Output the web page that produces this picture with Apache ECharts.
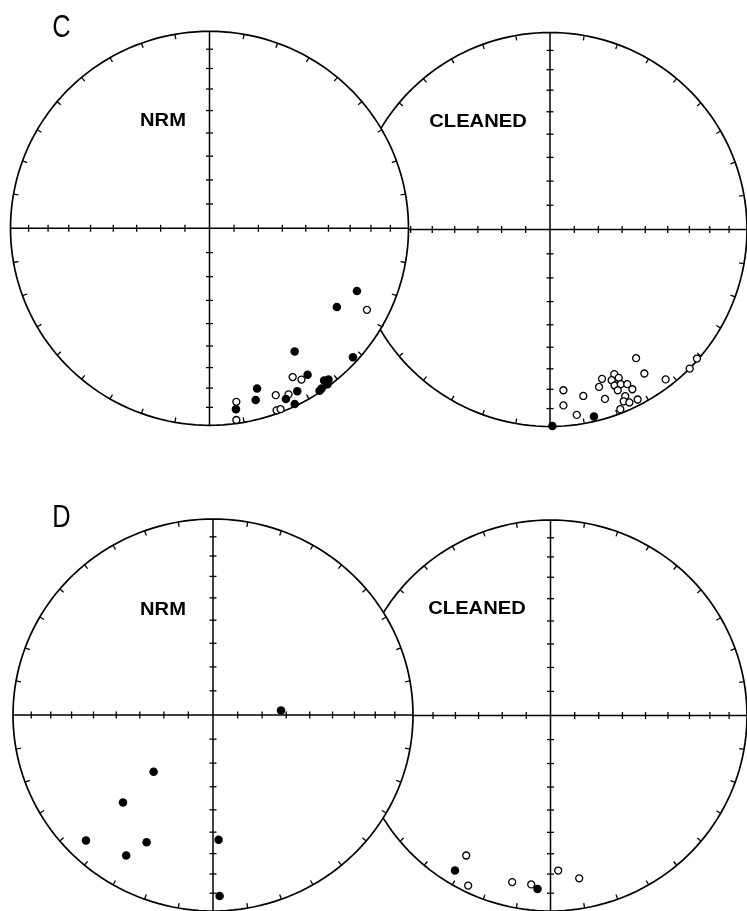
<!DOCTYPE html>
<html>
<head>
<meta charset="utf-8">
<script src="https://cdn.jsdelivr.net/npm/echarts@6/dist/echarts.min.js"></script>
<style>
html,body{margin:0;padding:0;background:#fff;}
#chart{width:747px;height:911px;}
</style>
</head>
<body>
<div id="chart"></div>
<script>
// ---- Data (equal-area net coordinates, x = east, y = north, unit = net radius) ----
// Filled = lower hemisphere, open = upper hemisphere
const groupLetters = ['C', 'D'];
const panelTitles = ['NRM', 'CLEANED'];

const cNrmFilled = [
  [0.741, -0.318], [0.640, -0.399], [0.428, -0.625], [0.721, -0.655],
  [0.493, -0.744], [0.576, -0.773], [0.598, -0.768], [0.593, -0.791],
  [0.563, -0.813], [0.553, -0.825], [0.441, -0.827], [0.239, -0.813],
  [0.232, -0.872], [0.384, -0.867], [0.428, -0.892], [0.133, -0.919]
];
const cNrmOpen = [
  [0.791, -0.414], [0.418, -0.755], [0.462, -0.768], [0.333, -0.847],
  [0.397, -0.843], [0.135, -0.881], [0.337, -0.924], [0.357, -0.918],
  [0.135, -0.973]
];
const cCleanFilled = [
  [0.223, -0.949], [0.012, -0.998]
];
const cCleanOpen = [
  [0.437, -0.653], [0.746, -0.655], [0.709, -0.706], [0.479, -0.731],
  [0.587, -0.761], [0.326, -0.734], [0.349, -0.753], [0.264, -0.758],
  [0.313, -0.765], [0.249, -0.799], [0.328, -0.792], [0.359, -0.785],
  [0.392, -0.785], [0.344, -0.816], [0.418, -0.811], [0.382, -0.846],
  [0.279, -0.860], [0.169, -0.845], [0.068, -0.816], [0.068, -0.893],
  [0.374, -0.872], [0.403, -0.878], [0.445, -0.863], [0.357, -0.912],
  [0.136, -0.941]
];
const dNrmFilled = [
  [0.340, 0.023], [-0.297, -0.290], [-0.450, -0.447], [-0.635, -0.640],
  [-0.332, -0.649], [-0.434, -0.717], [0.028, -0.637], [0.033, -0.923]
];
const dNrmOpen = [];
const dCleanFilled = [
  [-0.486, -0.793], [-0.066, -0.887]
];
const dCleanOpen = [
  [-0.429, -0.716], [-0.419, -0.870], [-0.195, -0.852], [-0.098, -0.864],
  [0.039, -0.793], [0.146, -0.833]
];
// net graticule: inclination steps (degrees) marked on the axes, azimuth step on the rim
const axisTickInclinations = [80, 70, 60, 50, 40, 30, 20, 10];
const rimTickStep = 10;

// ---- Layout ----
const layout = [
  {cx: 209.5, cy: 228.3, rx: 199, ry: 197},   // C NRM
  {cx: 550,   cy: 229.5, rx: 197, ry: 197},   // C CLEANED
  {cx: 213,   cy: 719,   rx: 200, ry: 200},   // D NRM
  {cx: 551,   cy: 718,   rx: 197, ry: 198}    // D CLEANED
];

const chart = echarts.init(document.getElementById('chart'), null, {renderer: 'canvas'});

function equalAreaRadius(incDeg) {
  const theta = (90 - incDeg) * Math.PI / 180;
  return Math.SQRT2 * Math.sin(theta / 2);
}

function netRender(params, api) {
  const children = [];
  const st = {stroke: '#000', lineWidth: 1.5, fill: null};
  const ring = [];
  for (let a = 0; a <= 360; a += 2) {
    const r = a * Math.PI / 180;
    ring.push(api.coord([Math.sin(r), Math.cos(r)]));
  }
  children.push({type: 'polygon', shape: {points: ring}, style: {fill: '#fff', stroke: '#000', lineWidth: 1.7}});
  const L = api.coord([-1, 0]), Rr = api.coord([1, 0]), T = api.coord([0, 1]), B = api.coord([0, -1]);
  children.push({type: 'line', shape: {x1: L[0], y1: L[1], x2: Rr[0], y2: Rr[1]}, style: st});
  children.push({type: 'line', shape: {x1: T[0], y1: T[1], x2: B[0], y2: B[1]}, style: st});
  // rim ticks (inward)
  for (let a = rimTickStep; a < 360; a += rimTickStep) {
    if (a % 90 === 0) continue;
    const r = a * Math.PI / 180;
    const p1 = api.coord([Math.sin(r), Math.cos(r)]);
    const p2 = api.coord([0.975 * Math.sin(r), 0.975 * Math.cos(r)]);
    children.push({type: 'line', shape: {x1: p1[0], y1: p1[1], x2: p2[0], y2: p2[1]}, style: {stroke: '#000', lineWidth: 1.3}});
  }
  // axis ticks (cross ticks)
  const h = 3.5;
  axisTickInclinations.forEach(function (inc) {
    const d = equalAreaRadius(inc);
    [[d, 0], [-d, 0]].forEach(function (pt) {
      const p = api.coord(pt);
      children.push({type: 'line', shape: {x1: p[0], y1: p[1] - h, x2: p[0], y2: p[1] + h}, style: {stroke: '#000', lineWidth: 1.3}});
    });
    [[0, d], [0, -d]].forEach(function (pt) {
      const p = api.coord(pt);
      children.push({type: 'line', shape: {x1: p[0] - h, y1: p[1], x2: p[0] + h, y2: p[1]}, style: {stroke: '#000', lineWidth: 1.3}});
    });
  });
  return {type: 'group', children: children};
}

const grids = [], xAxes = [], yAxes = [], series = [];
layout.forEach(function (g, i) {
  grids.push({left: g.cx - g.rx, top: g.cy - g.ry, width: 2 * g.rx, height: 2 * g.ry, containLabel: false});
  xAxes.push({gridIndex: i, type: 'value', min: -1, max: 1, show: false});
  yAxes.push({gridIndex: i, type: 'value', min: -1, max: 1, show: false});
});

const panelData = [
  {filled: cNrmFilled, open: cNrmOpen},
  {filled: cCleanFilled, open: cCleanOpen},
  {filled: dNrmFilled, open: dNrmOpen},
  {filled: dCleanFilled, open: dCleanOpen}
];

// draw CLEANED nets first, NRM nets on top (NRM disk covers the overlap)
const zFor = [10, 1, 10, 1];
panelData.forEach(function (pd, i) {
  series.push({
    type: 'custom', xAxisIndex: i, yAxisIndex: i, clip: false, silent: true,
    z: zFor[i], data: [[0, 0]], renderItem: netRender
  });
  series.push({
    type: 'scatter', xAxisIndex: i, yAxisIndex: i, z: zFor[i] + 1, silent: true,
    symbol: 'circle', symbolSize: 7,
    itemStyle: {color: '#fff', borderColor: '#000', borderWidth: 1.3, opacity: 1},
    data: pd.open
  });
  series.push({
    type: 'scatter', xAxisIndex: i, yAxisIndex: i, z: zFor[i] + 2, silent: true,
    symbol: 'circle', symbolSize: 8.5,
    itemStyle: {color: '#000', opacity: 1},
    data: pd.filled
  });
});

const labelFont = '"Liberation Sans", Arial, sans-serif';
const graphics = [];
[[61.5, 28], [61.5, 518]].forEach(function (p, k) {
  graphics.push({type: 'text', x: p[0], y: p[1], z: 100, scaleX: 0.82, originX: 0, originY: 0,
    style: {text: groupLetters[k], font: 'normal 31px ' + labelFont, fill: '#000', align: 'center', verticalAlign: 'middle'}});
});
[[163, 121, 0], [478, 122, 1], [163, 610, 0], [477, 609, 1]].forEach(function (p) {
  graphics.push({type: 'text', x: p[0], y: p[1], z: 100, scaleX: 1.06, originX: 0, originY: 0,
    style: {text: panelTitles[p[2]], font: 'bold 19px ' + labelFont, fill: '#000', align: 'center', verticalAlign: 'middle'}});
});

chart.setOption({
  animation: false,
  backgroundColor: '#fff',
  grid: grids,
  xAxis: xAxes,
  yAxis: yAxes,
  series: series,
  graphic: graphics
});
</script>
</body>
</html>
